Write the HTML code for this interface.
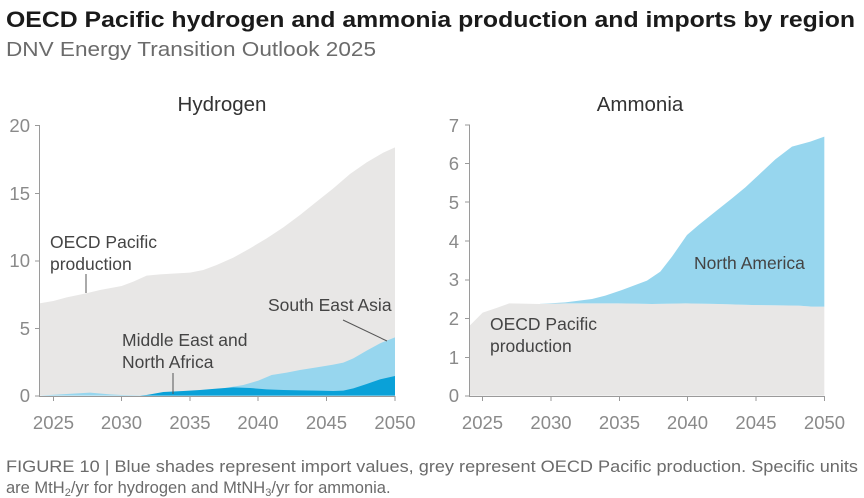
<!DOCTYPE html>
<html><head><meta charset="utf-8"><style>
body{margin:0;background:#fff;}
svg{display:block;font-family:"Liberation Sans",sans-serif;}
</style></head><body>
<svg width="864" height="498" viewBox="0 0 864 498">
<text x="6" y="27" font-size="22.5" font-weight="bold" fill="#1a1a1a" textLength="849" lengthAdjust="spacingAndGlyphs">OECD Pacific hydrogen and ammonia production and imports by region</text>
<text x="6" y="56" font-size="20.5" fill="#6b6b6b" textLength="370" lengthAdjust="spacingAndGlyphs">DNV Energy Transition Outlook 2025</text>

<text x="222" y="111" font-size="20.5" fill="#333" text-anchor="middle">Hydrogen</text>
<text x="640" y="111" font-size="20.5" fill="#333" text-anchor="middle">Ammonia</text>

<g transform="translate(0,110) scale(0.33333)">
<path fill="#e8e7e6" d="M118,580 L160,573 L200,562 L258,550 L300,540 L365,528 L400,515 L440,497 L480,493 L530,490 L570,488 L610,480 L650,465 L700,443 L750,415 L800,385 L850,352 L900,315 L950,275 L1000,235 L1050,192 L1100,157 L1150,128 L1185,112 L1185,857 L118,857 Z"/>
<path fill="#97d6ee" d="M118,857 L200,852 L270,848 L330,853 L365,855 L420,856 L480,852 L550,845 L650,838 L730,825 L775,812 L815,795 L860,788 L900,780 L950,772 L1000,764 L1030,758 L1060,745 L1100,722 L1140,700 L1185,682 L1185,857 Z"/>
<path fill="#0aa1d8" d="M118,857 L420,857 L440,855 L490,846 L550,843 L600,840 L650,836 L700,832 L750,834 L800,838 L850,840 L900,841 L950,842 L1000,843 L1030,842 L1060,835 L1100,822 L1140,808 L1185,798 L1185,857 Z"/>
<path fill="#e8e7e6" transform="translate(1296,0)" d="M112,648 L152,608 L190,595 L232,580 L270,581 L320,582 L400,580 L500,580 L560,580 L660,582 L760,580 L860,582 L960,585 L1100,587 L1140,590 L1177,590 L1177,857 L112,857 Z"/>
<path fill="#97d6ee" transform="translate(1296,0)" d="M320,582 L400,577 L480,567 L520,557 L570,540 L610,525 L645,512 L685,485 L720,440 L765,375 L800,345 L850,305 L900,265 L940,232 L980,195 L1030,148 L1080,110 L1135,95 L1177,80 L1177,590 L1140,590 L1100,587 L960,585 L860,582 L760,580 L660,582 L560,580 L500,580 L400,580 Z"/>
</g>

<g stroke="#9a9a9a" stroke-width="1" fill="none">
<path d="M39.5,125 V396.5 H395"/>
<path d="M35,125.5h5M35,193.5h5M35,261h5M35,328.5h5M35,396h5"/>
<path d="M53.5,396v5M121.5,396v5M190,396v5M258,396v5M326.5,396v5M395,396v5"/>
<path d="M469.5,125 V396.5 H824.5"/>
<path d="M465,125h5M465,163.5h5M465,202h5M465,241h5M465,280h5M465,318.5h5M465,357.5h5M465,396h5"/>
<path d="M482.5,396v5M551,396v5M619.5,396v5M687.5,396v5M756,396v5M824.5,396v5"/>
</g>
<g font-size="18.5" fill="#8a8a8a" text-anchor="end">
<text x="30" y="132">20</text><text x="30" y="200">15</text><text x="30" y="267">10</text><text x="30" y="335">5</text><text x="30" y="402">0</text>
<text x="459" y="132">7</text><text x="459" y="170">6</text><text x="459" y="209">5</text><text x="459" y="248">4</text><text x="459" y="286">3</text><text x="459" y="325">2</text><text x="459" y="364">1</text><text x="459" y="402">0</text>
</g>
<g font-size="18.5" fill="#8a8a8a" text-anchor="middle">
<text x="53.5" y="429">2025</text><text x="121.5" y="429">2030</text><text x="190" y="429">2035</text><text x="258" y="429">2040</text><text x="326.5" y="429">2045</text><text x="395" y="429">2050</text>
<text x="482.5" y="429">2025</text><text x="551" y="429">2030</text><text x="619.5" y="429">2035</text><text x="687.5" y="429">2040</text><text x="756" y="429">2045</text><text x="824.5" y="429">2050</text>
</g>

<g font-size="17.5" fill="#444">
<text x="50" y="248">OECD Pacific</text><text x="50" y="270">production</text>
<text x="268" y="311">South East Asia</text>
<text x="122" y="346">Middle East and</text><text x="122" y="368">North Africa</text>
<text x="490" y="330">OECD Pacific</text><text x="490" y="352">production</text>
<text x="694" y="269">North America</text>
</g>
<g stroke="#555" stroke-width="1">
<path d="M86,274V293"/><path d="M343,320L387,341"/><path d="M173,373V394"/>
</g>

<g font-size="16.5" fill="#6b6b6b">
<text x="6" y="472" textLength="852" lengthAdjust="spacingAndGlyphs">FIGURE 10 | Blue shades represent import values, grey represent OECD Pacific production. Specific units</text>
<text x="6" y="493">are MtH<tspan font-size="11" dy="3">2</tspan><tspan dy="-3">/yr for hydrogen and MtNH</tspan><tspan font-size="11" dy="3">3</tspan><tspan dy="-3">/yr for ammonia.</tspan></text>
</g>
</svg>
</body></html>
